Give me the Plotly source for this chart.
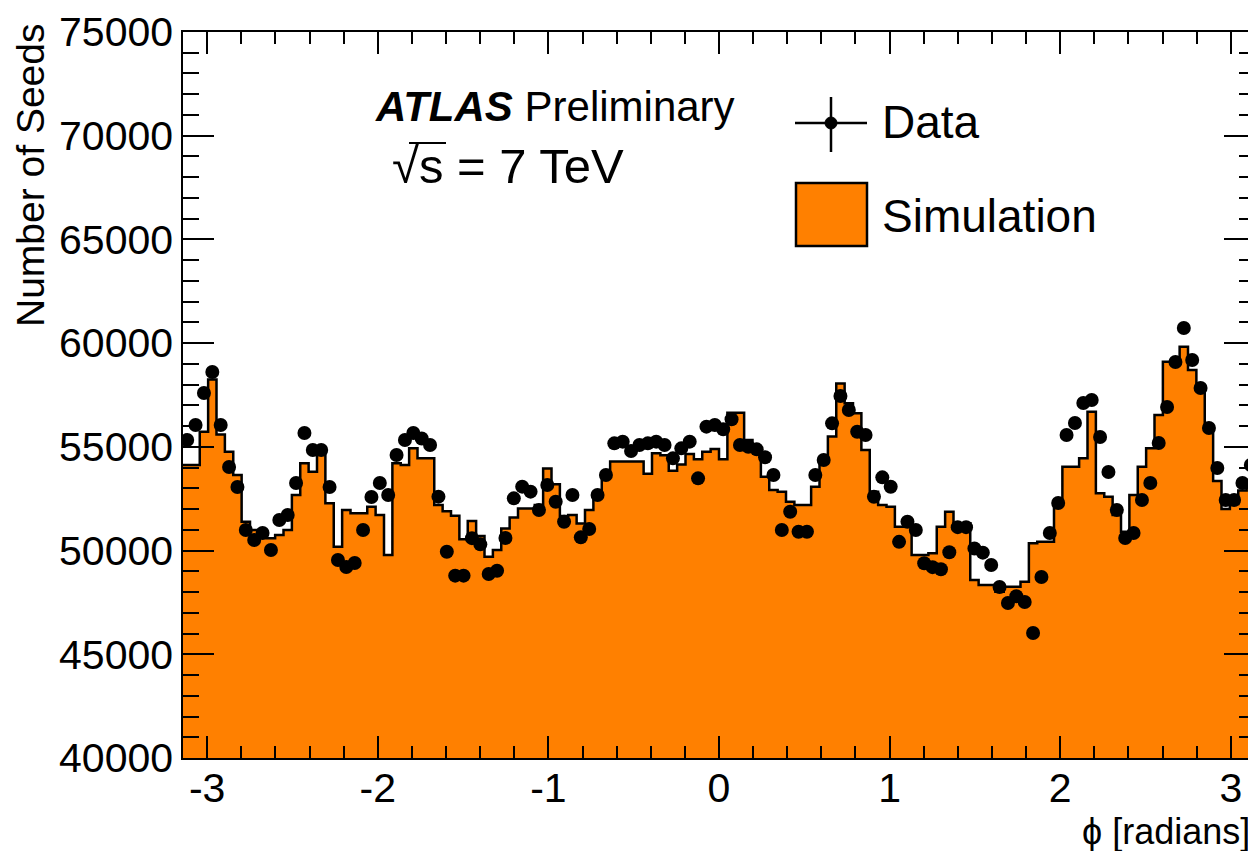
import numpy as np
import plotly.graph_objects as go

# ---------------- data (128 bins in phi, -pi .. pi) ----------------
n_bins = 128
phi_min, phi_max = -np.pi, np.pi

data_counts = [
    55330, 56053, 57597, 58609, 56053, 54030, 53064, 50992, 50510, 50847,
    50027, 51474, 51715, 53257, 55670, 54848, 54848, 53064, 49545, 49207,
    49400, 50990, 52580, 53257, 52680, 54607, 55330, 55670, 55400, 55089,
    52600, 49940, 48790, 48790, 50600, 50300, 48870, 49030, 50604, 52518,
    53081, 52840, 51955, 53160, 52357, 51392, 52679, 50637, 51039, 52679,
    53643, 55170, 55250, 54800, 55089, 55169, 55250, 55089, 54446, 54928,
    55250, 53482, 55973, 56053, 55850, 56330, 55089, 55008, 54880, 54500,
    53643, 50992, 51874, 50910, 50910, 53643, 54366, 56134, 57450, 56776,
    55730, 55571, 52597, 53530, 53080, 50420, 51390, 50990, 49390, 49200,
    49100, 49920, 51130, 51130, 50100, 49900, 49304, 48243, 47472, 47800,
    47520, 46026, 48726, 50847, 52293, 55571, 56150, 57114, 57259, 55475,
    53788, 51956, 50606, 50847, 52438, 53257, 55186, 56921, 59091, 60730,
    59187, 57837, 55909, 53981, 52438, 52438, 53257, 54125,
]

sim_counts = [
    54125, 54125, 55732, 58250, 55600, 54768, 53643, 51393, 50990, 50830,
    50589, 50750, 50990, 52678, 54205, 53803, 54768, 52277, 50187, 51955,
    51794, 51794, 52116, 51714, 49786, 54205, 54125, 54928, 54446, 54446,
    52196, 51900, 51680, 50550, 51430, 50700, 49700, 50030, 51070, 51600,
    52030, 52030, 52200, 53960, 53200, 51670, 51710, 51300, 51950, 52800,
    53600, 54300, 54300, 54300, 54300, 53700, 54690, 54600, 53850, 54150,
    54650, 54400, 54770, 54900, 54400, 56650, 56650, 55330, 54850, 53562,
    52920, 52840, 52357, 52197, 52197, 53080, 54205, 55500, 58060, 57098,
    56616, 54848, 52840, 52197, 52116, 51153, 51153, 49787, 49787, 49867,
    51153, 51876, 51313, 51313, 48581, 48340, 48340, 48019, 48260, 48260,
    48500, 50349, 50430, 50430, 52358, 54045, 54045, 54447, 56697, 52760,
    52599, 51715, 50911, 52679, 54045, 54929, 56536, 59107, 59107, 59830,
    58700, 57900, 55950, 53350, 52000, 52250, 52900, 53050,
]

x_tickvals = [-3, -2, -1, 0, 1, 2, 3]
x_ticktext = ["-3", "-2", "-1", "0", "1", "2", "3"]

# ---------------- figure ----------------
edges = np.linspace(phi_min, phi_max, n_bins + 1)
centers = 0.5 * (edges[:-1] + edges[1:])

ORANGE = "#FF8000"
FONT = "Liberation Sans, Arial, Helvetica, sans-serif"

fig = go.Figure()

fig.add_trace(go.Scatter(
    x=edges, y=list(sim_counts) + [sim_counts[-1]],
    mode="lines", line=dict(shape="hv", color="black", width=2.5),
    fill="tozeroy", fillcolor=ORANGE, name="Simulation", showlegend=False,
    hoverinfo="skip",
))

fig.add_trace(go.Scatter(
    x=centers, y=data_counts, mode="markers",
    marker=dict(size=14, color="black"), name="Data", showlegend=False,
))

axis_common = dict(
    showline=True, linecolor="black", linewidth=1.5, mirror="allticks",
    ticks="inside", tickcolor="black", tickwidth=1.5,
    showgrid=False, zeroline=False, automargin=False,
    tickfont=dict(family=FONT, size=41, color="black"),
)

fig.update_xaxes(
    range=[phi_min, phi_max], tickmode="array",
    tickvals=x_tickvals, ticktext=x_ticktext, ticklen=22,
    ticklabelstandoff=-7,
    minor=dict(dtick=0.2, tick0=0, ticks="inside", ticklen=12,
               tickcolor="black", tickwidth=1.5, showgrid=False),
    **axis_common,
)
fig.update_yaxes(
    range=[40000, 75000], dtick=5000, tick0=0, tickformat="d", ticklen=31,
    minor=dict(dtick=1000, tick0=0, ticks="inside", ticklen=16,
               tickcolor="black", tickwidth=1.5, showgrid=False),
    **axis_common,
)

# The page body adds an 8 px offset; the figure is sized so that the
# plot frame lands at x 183..1255, y 32..758 of the window.
OFF = 8
FIG_W, FIG_H = 1256 - OFF, 851 - OFF
L, T, W, H = 183 - OFF, 32 - OFF, 1072, 726


def px(xp):
    return (xp - OFF - L) / W


def py(yp):
    return (T + H - (yp - OFF)) / H


annotations = [
    # axis titles
    dict(text="Number of Seeds", textangle=-90, x=px(30), y=py(21),
         xanchor="center", yanchor="top",
         font=dict(family=FONT, size=39, color="black")),
    dict(text="ϕ [radians]", x=px(1252), y=py(831),
         xanchor="right", yanchor="middle",
         font=dict(family=FONT, size=36, color="black")),
    # ATLAS label
    dict(text="<b><i>ATLAS</i></b> Preliminary", x=px(373), y=py(106),
         xanchor="left", yanchor="middle",
         font=dict(family=FONT, size=42, color="black")),
    dict(text="√s = 7 TeV",
         x=px(390), y=py(166), xanchor="left", yanchor="middle",
         font=dict(family=FONT, size=49, color="black")),
    # legend texts
    dict(text="Data", x=px(880), y=py(122), xanchor="left", yanchor="middle",
         font=dict(family=FONT, size=46, color="black")),
    dict(text="Simulation", x=px(880), y=py(216), xanchor="left",
         yanchor="middle", font=dict(family=FONT, size=46, color="black")),
]
for a in annotations:
    a.update(xref="paper", yref="paper", showarrow=False)

shapes = [
    # overline of the square root
    dict(type="line", x0=px(409), x1=px(446), y0=py(143), y1=py(143),
         line=dict(color="black", width=2)),
    # Data legend symbol
    dict(type="line", x0=px(795), x1=px(867), y0=py(123), y1=py(123),
         line=dict(color="black", width=2.5)),
    dict(type="line", x0=px(831), x1=px(831), y0=py(97), y1=py(152),
         line=dict(color="black", width=2.5)),
    dict(type="circle", x0=px(825), x1=px(837), y0=py(129), y1=py(117),
         fillcolor="black", line=dict(color="black", width=1)),
    # Simulation legend box
    dict(type="rect", x0=px(796), x1=px(867), y0=py(246), y1=py(183),
         fillcolor=ORANGE, line=dict(color="black", width=2.5)),
]
for s in shapes:
    s.update(xref="paper", yref="paper", layer="above")

fig.update_layout(
    width=FIG_W, height=FIG_H,
    margin=dict(l=L, r=FIG_W - L - W, t=T, b=FIG_H - T - H, autoexpand=False),
    paper_bgcolor="white", plot_bgcolor="white",
    showlegend=False,
    annotations=annotations, shapes=shapes,
    font=dict(family=FONT, color="black"),
)

fig.write_html("out.html")
